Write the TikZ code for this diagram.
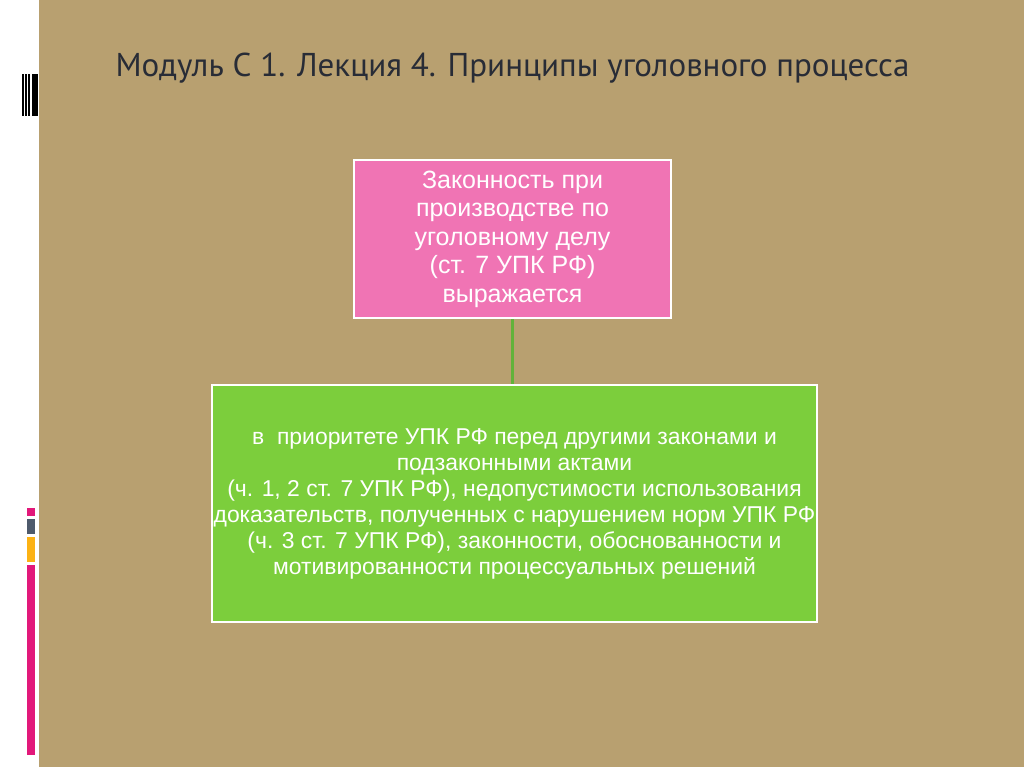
\documentclass[tikz,border=0pt]{standalone}
\usepackage{fontspec}
\setmainfont{Liberation Sans}
\newfontfamily\titlefont{PT Sans}
\usetikzlibrary{positioning}
\definecolor{burlap}{RGB}{184,160,112}
\definecolor{boxpink}{RGB}{240,116,180}
\definecolor{boxgreen}{RGB}{124,206,60}
\definecolor{linkgreen}{RGB}{98,178,58}
\definecolor{titleink}{RGB}{40,44,54}
\definecolor{barpink}{RGB}{226,24,122}
\definecolor{bargray}{RGB}{78,90,108}
\definecolor{barorange}{RGB}{252,178,20}

\begin{document}
\begin{tikzpicture}[x=1pt,y=-1pt,
  lawbox/.style={draw=white,line width=2pt,fill=boxpink,text=white,
    minimum width=317pt,minimum height=158pt,align=center,
    font=\fontsize{25}{28.5}\selectfont},
  priobox/.style={draw=white,line width=2pt,fill=boxgreen,text=white,
    minimum width=605pt,minimum height=237pt,align=center,inner sep=0pt,
    font=\fontsize{22.9}{26}\selectfont},
  linkline/.style={linkgreen,line width=3pt}]
\useasboundingbox (0,0) rectangle (1024,767);

% Background
\fill[white] (0,0) rectangle (39,767);
\fill[burlap] (39,0) rectangle (1024,767);

% Side marks
\foreach \a/\b in {22/23.5,25/26.8,28.4/30.2,31.6/38}
  \fill[black] (\a,74) rectangle (\b,116);
\fill[barpink] (27,508) rectangle (35,516);
\fill[bargray] (27,519) rectangle (35,534);
\fill[barorange] (27,537) rectangle (35,562);
\fill[barpink] (27,565) rectangle (35,755);

% Title
\node[titleink,anchor=base,inner sep=0pt,font=\titlefont\fontsize{33}{36}\selectfont] (title) at (512.5,77)
  {Модуль С 1. Лекция 4. Принципы уголовного процесса};

% Boxes
\node[lawbox] (law) at (512.5,239)
  {Законность при\\производстве по\\уголовному делу\\(ст. 7 УПК РФ)\\выражается};
\node[priobox] (prio) at (514.5,503.5)
  {в~ приоритете УПК РФ перед другими законами и\\подзаконными актами\\(ч. 1, 2 ст. 7 УПК РФ), недопустимости использования\\доказательств, полученных с нарушением норм УПК РФ\\(ч. 3 ст. 7 УПК РФ), законности, обоснованности и\\мотивированности процессуальных решений};

% Link
\draw[linkline] (law.south -| 512,0) -- (prio.north -| 512,0);
\end{tikzpicture}
\end{document}
